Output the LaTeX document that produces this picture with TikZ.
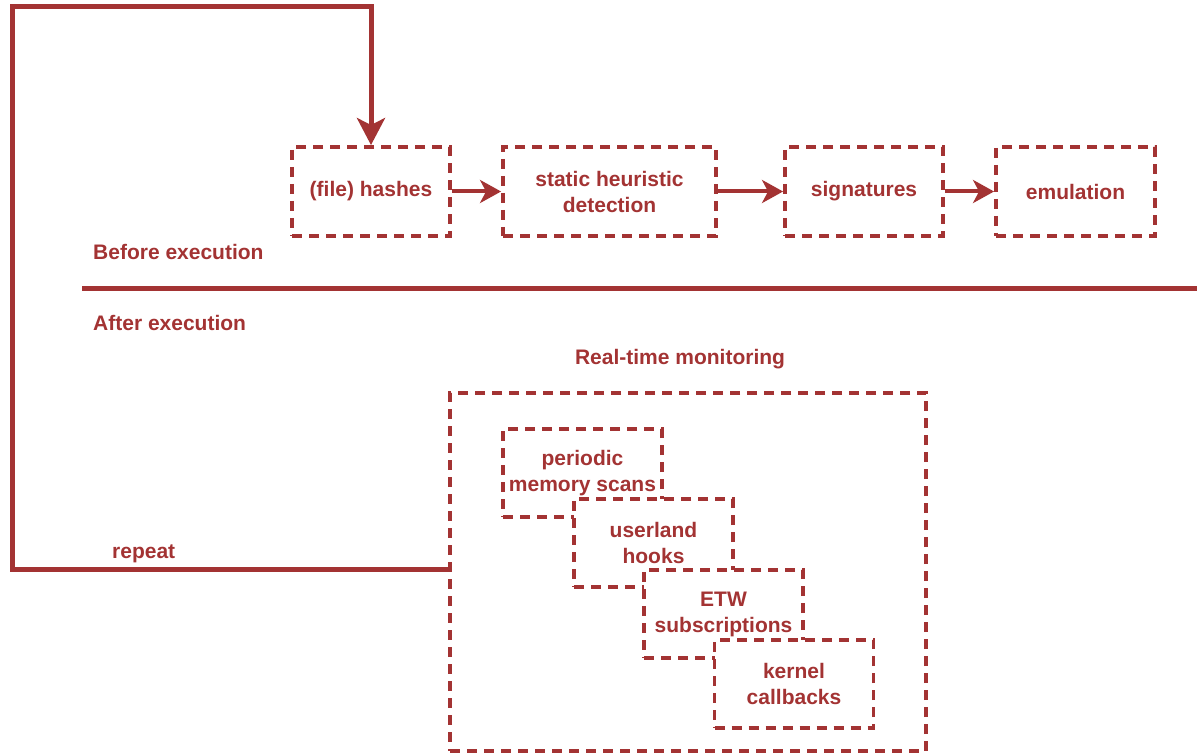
\documentclass[tikz,border=0pt]{standalone}
\usepackage{fontspec}
\setmainfont{Liberation Sans}
\usetikzlibrary{arrows.meta}
\definecolor{dred}{HTML}{A33333}
\begin{document}
\begin{tikzpicture}[x=1pt,y=-1pt,
  lbl/.style={text=dred, font=\bfseries\fontsize{21}{26}\selectfont, inner sep=0pt},
  box/.style={rectangle, inner sep=0pt, align=center, text=dred,
    font=\bfseries\fontsize{21}{26}\selectfont,
    preaction={fill=white},
    preaction={draw=gray!45, line width=0.8pt},
    draw=dred, line width=3.9pt, dash pattern=on 10pt off 7pt},
  flow/.style={draw=dred, line width=4pt, -{Stealth[length=21pt,width=23pt,inset=6pt]}},
  loopline/.style={draw=dred, line width=5pt, -{Stealth[length=27pt,width=28pt,inset=7pt]}}
]
\useasboundingbox (0,0) rectangle (1197,754);

% top row
\node[box, minimum width=158pt, minimum height=89pt] (hash) at (371,191.5) {(file) hashes};
\node[box, minimum width=213pt, minimum height=89pt] (stat) at (609.5,191.5) {static heuristic\\detection};
\node[box, minimum width=158pt, minimum height=89pt] (sig) at (864,191.5) {signatures};
\node[box, minimum width=159pt, minimum height=89pt] (emu) at (1075.5,191.5) {emulation};

\draw[flow] (hash.east) -- (stat.west);
\draw[flow] (stat.east) -- (sig.west);
\draw[flow] (sig.east) -- (emu.west);

% separator
\coordinate (sepL) at (82,288);
\coordinate (sepR) at (1197,288);
\draw[dred, line width=5pt] (sepL) -- (sepR);

\node[lbl, anchor=west] (before) at (93,252) {Before execution};
\node[lbl, anchor=west] (after) at (93,323) {After execution};
\node[lbl, anchor=base] (rtm) at (680,364) {Real-time monitoring};

% monitoring container
\node[box, minimum width=476pt, minimum height=358pt] (big) at (688,572) {};
\node[box, minimum width=159pt, minimum height=88pt] (per) at (582.5,473) {periodic\\memory scans};
\node[box, minimum width=159pt, minimum height=88pt] (usr) at (653.5,543) {userland\\hooks};
\node[box, minimum width=159pt, minimum height=88pt] (etw) at (723.5,614) {ETW\\subscriptions};
\node[box, minimum width=159pt, minimum height=88pt] (ker) at (794,684) {kernel\\callbacks};

% repeat loop
\coordinate (lb) at (12,569);
\coordinate (lt) at (12,7);
\draw[loopline] (big.west |- lb) -- (lb) -- (lt) -| (hash.north);
\node[lbl, anchor=base west] (rep) at (112,558) {repeat};
\end{tikzpicture}
\end{document}
